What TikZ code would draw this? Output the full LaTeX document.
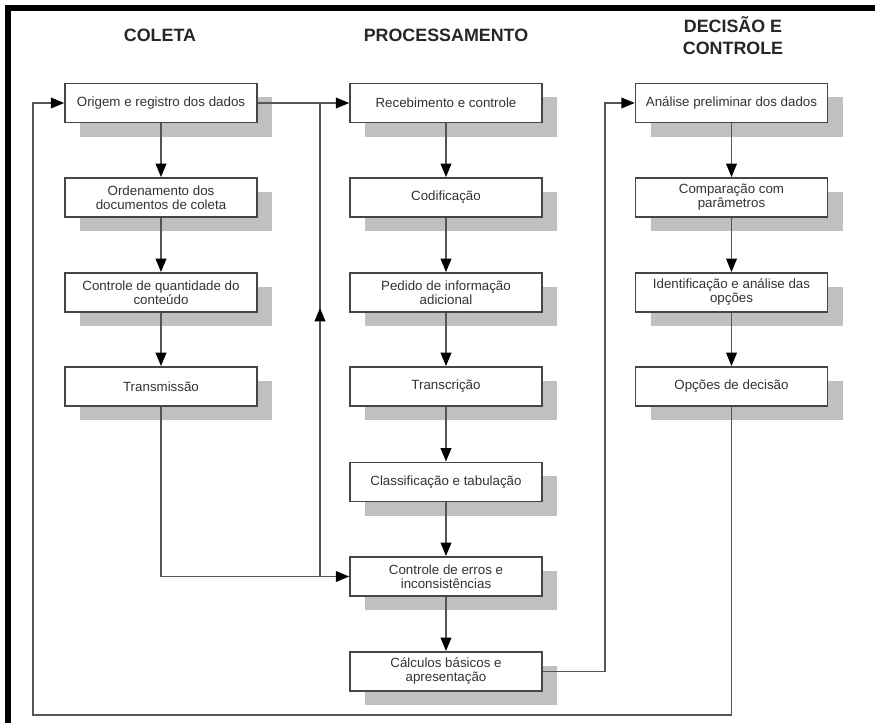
\documentclass[tikz,border=0pt]{standalone}
\usepackage{fontspec}
\setmainfont{Liberation Sans}
\usetikzlibrary{arrows.meta,shadows}
\definecolor{boxline}{HTML}{454545}
\definecolor{connc}{HTML}{555555}
\definecolor{shade}{HTML}{C0C0C0}
\definecolor{txt}{HTML}{333333}
\begin{document}
\begin{tikzpicture}[x=0.75pt,y=-0.75pt,
  stepbox/.style={draw=boxline, line width=1.2pt, fill=white,
    minimum width=144pt, minimum height=29.5pt, inner sep=1pt, align=center,
    font=\fontsize{10}{10.5}\selectfont, text=txt,
    drop shadow={shadow xshift=11.25pt, shadow yshift=-10.5pt, fill=shade, opacity=1}},
  coltitle/.style={font=\fontsize{13.4}{16.5}\selectfont\bfseries, text=black!85, align=center},
  connl/.style={draw=connc, line width=1.1pt},
  arr/.style={connl, -{Triangle[length=10pt,width=8pt,color=black]}}]
\useasboundingbox (0,0) rectangle (875,723);
% frame
\draw[line width=4.5pt, line join=miter] (7.5,723) -- (7.5,8) -- (875,8);
% titles
\node[coltitle] (t1) at (160,35) {COLETA};
\node[coltitle] (t2) at (446,35) {PROCESSAMENTO};
\node[coltitle] (t3) at (733,36) {DECISÃO E\\CONTROLE};
% column 1
\node[stepbox] (or) at (161,103) {Origem e registro dos dados};
\node[stepbox] (od1) at (161,197.5) {Ordenamento dos\\documentos de coleta};
\node[stepbox] (cq) at (161,292.5) {Controle de quantidade do\\conteúdo};
\node[stepbox] (tr) at (161,386.5) {Transmissão};
% column 2
\node[stepbox] (rc) at (446,103) {Recebimento e controle};
\node[stepbox] (cd) at (446,197.5) {Codificação};
\node[stepbox] (pi) at (446,292.5) {Pedido de informação\\adicional};
\node[stepbox] (ts) at (446,386.5) {Transcrição};
\node[stepbox] (ct) at (446,482) {Classificação e tabulação};
\node[stepbox] (ce) at (446,576.5) {Controle de erros e\\inconsistências};
\node[stepbox] (cb) at (446,671.5) {Cálculos básicos e\\apresentação};
% column 3
\node[stepbox] (ap) at (731.5,103) {Análise preliminar dos dados};
\node[stepbox] (cp) at (731.5,197.5) {Comparação com\\parâmetros};
\node[stepbox] (ia) at (731.5,292.5) {Identificação e análise das\\opções};
\node[stepbox] (op) at (731.5,386.5) {Opções de decisão};
% vertical arrows
\draw[arr] (or) -- (od1);
\draw[arr] (od1) -- (cq);
\draw[arr] (cq) -- (tr);
\draw[arr] (rc) -- (cd);
\draw[arr] (cd) -- (pi);
\draw[arr] (pi) -- (ts);
\draw[arr] (ts) -- (ct);
\draw[arr] (ct) -- (ce);
\draw[arr] (ce) -- (cb);
\draw[arr] (ap) -- (cp);
\draw[arr] (cp) -- (ia);
\draw[arr] (ia) -- (op);
% connectors
\coordinate (jt) at (320,103);
\coordinate (jb) at (320,576.5);
\coordinate (jm) at (320,308);
\coordinate (cR) at (605,671.5);
\coordinate (bR) at (731.5,715);
\coordinate (bL) at (33,715);
\draw[arr] (or.east) -- (rc.west);
\draw[arr] (tr.south) |- (ce.west);
\draw[connl] (jb) -- (jt);
\draw[arr] (jb) -- (jm);
\draw[arr] (cb.east) -- (cR) |- (ap.west);
\draw[arr] (op.south) -- (bR) -- (bL) |- (or.west);
\end{tikzpicture}
\end{document}
